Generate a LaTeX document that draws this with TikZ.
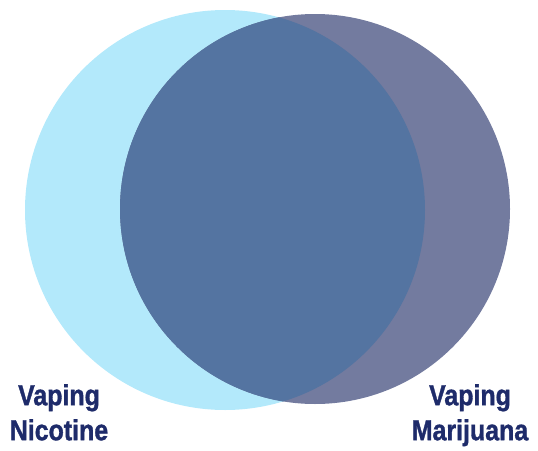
\documentclass[tikz,border=0pt]{standalone}
\usepackage{fontspec}
\setmainfont{Liberation Sans}
\newfontfamily\setlabelfont[FakeStretch=0.86,BoldFeatures={FakeBold=1.2}]{Liberation Sans}
\definecolor{nicotineblue}{HTML}{B3E9FB}
\definecolor{marijuanagray}{HTML}{737B9F}
\definecolor{overlapblue}{HTML}{5474A1}
\definecolor{labelnavy}{HTML}{1E2B6A}

\begin{document}
\begin{tikzpicture}[x=1pt,y=-1pt,
    setcircle/.style={circle, inner sep=0pt, minimum size=#1},
    setlabel/.style={anchor=north, inner sep=0pt, align=center, text=labelnavy,
        font=\setlabelfont\fontsize{29}{35}\selectfont\bfseries}]
    \useasboundingbox (0,0) rectangle (538,450);

    % The two sets
    \node[setcircle=400pt, fill=nicotineblue] (nicotine) at (225,210) {};
    \node[setcircle=390pt, fill=marijuanagray] (marijuana) at (315,209) {};

    % Shared part of both sets
    \begin{scope}
        \clip (225,210) circle (200pt);
        \fill[overlapblue] (315,209) circle (195pt);
    \end{scope}

    % Set labels under the circles
    \node[setlabel] (nicotinelabel) at (59,384) {Vaping\\Nicotine};
    \node[setlabel] (marijuanalabel) at (470,384) {Vaping\\Marijuana};
\end{tikzpicture}
\end{document}
